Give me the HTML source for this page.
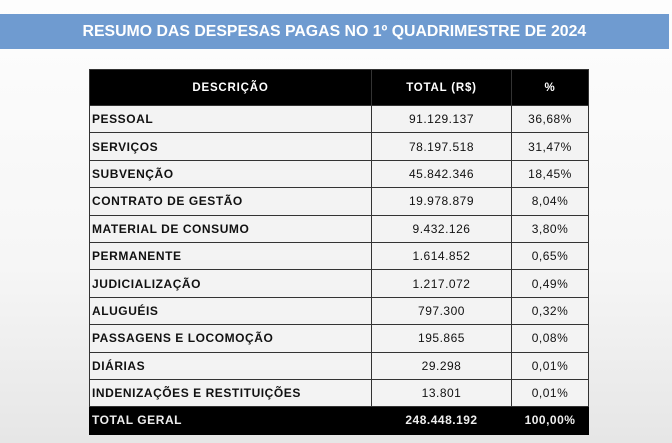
<!DOCTYPE html>
<html><head><meta charset="utf-8"><style>
html,body{margin:0;padding:0;}
body{width:672px;height:443px;overflow:hidden;background:linear-gradient(#fdfdfd 0%,#f6f6f6 60%,#e6e6e6 100%);font-family:"Liberation Sans",sans-serif;position:relative;}
.banner{position:absolute;left:0;top:14px;width:669px;height:35px;background:#6f9bd0;text-align:center;line-height:35px;}
.banner span{display:inline-block;color:#fff;font-size:16px;font-weight:bold;transform:scaleX(0.99);white-space:nowrap;}
table{position:absolute;left:89px;top:69px;width:499px;border-collapse:collapse;table-layout:fixed;}
td,th{border:1px solid #333;height:26.4px;padding:0;font-size:12px;color:#111;}
th{background:#000;color:#fff;height:35px;font-weight:bold;letter-spacing:0.8px;font-size:11.5px;}
td{background:#f3f3f3;}
td.d{font-weight:bold;letter-spacing:0.55px;padding-left:2px;}
td.n{text-align:center;letter-spacing:0.5px;}
tr.t td{background:#000;color:#eee;font-weight:bold;border-color:#000;}
</style></head><body>
<div class="banner"><span>RESUMO DAS DESPESAS PAGAS NO 1º QUADRIMESTRE DE 2024</span></div>
<table>
<colgroup><col style="width:282px"><col style="width:140px"><col style="width:77px"></colgroup>
<tr><th>DESCRIÇÃO</th><th>TOTAL (R$)</th><th>%</th></tr>
<tr><td class="d">PESSOAL</td><td class="n">91.129.137</td><td class="n">36,68%</td></tr>
<tr><td class="d">SERVIÇOS</td><td class="n">78.197.518</td><td class="n">31,47%</td></tr>
<tr><td class="d">SUBVENÇÃO</td><td class="n">45.842.346</td><td class="n">18,45%</td></tr>
<tr><td class="d">CONTRATO DE GESTÃO</td><td class="n">19.978.879</td><td class="n">8,04%</td></tr>
<tr><td class="d">MATERIAL DE CONSUMO</td><td class="n">9.432.126</td><td class="n">3,80%</td></tr>
<tr><td class="d">PERMANENTE</td><td class="n">1.614.852</td><td class="n">0,65%</td></tr>
<tr><td class="d">JUDICIALIZAÇÃO</td><td class="n">1.217.072</td><td class="n">0,49%</td></tr>
<tr><td class="d">ALUGUÉIS</td><td class="n">797.300</td><td class="n">0,32%</td></tr>
<tr><td class="d">PASSAGENS E LOCOMOÇÃO</td><td class="n">195.865</td><td class="n">0,08%</td></tr>
<tr><td class="d">DIÁRIAS</td><td class="n">29.298</td><td class="n">0,01%</td></tr>
<tr><td class="d">INDENIZAÇÕES E RESTITUIÇÕES</td><td class="n">13.801</td><td class="n">0,01%</td></tr>
<tr class="t"><td class="d" style="color:#eee">TOTAL GERAL</td><td class="n">248.448.192</td><td class="n">100,00%</td></tr>
</table>
</body></html>
